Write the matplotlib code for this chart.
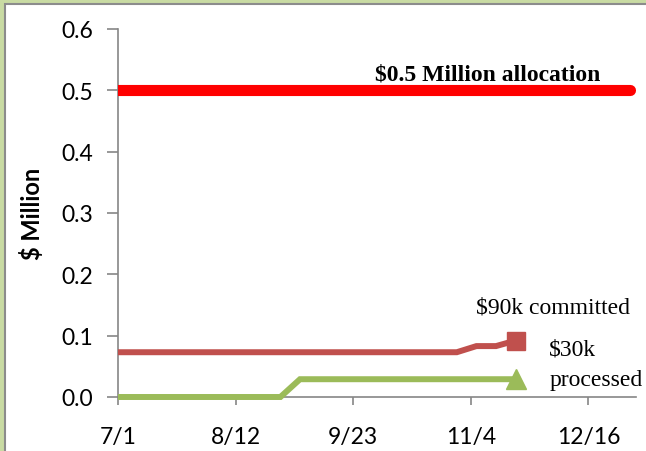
import matplotlib.pyplot as plt
from matplotlib.patches import Rectangle
from datetime import datetime

YEAR = 2013

def d(s, year=YEAR):
    m, day = s.split('/')
    return datetime(year, int(m), int(day))

# allocation line
alloc_dates = [d('7/1'), d('12/31')]
alloc_vals = [0.5, 0.5]

# committed ($ million)
committed_dates = [d('7/1'), d('10/30'), d('11/6'), d('11/13'), d('11/20')]
committed_vals = [0.073, 0.073, 0.083, 0.083, 0.092]

# processed ($ million)
processed_dates = [d('7/1'), d('8/28'), d('9/4'), d('11/20')]
processed_vals = [0.0, 0.0, 0.029, 0.029]

tick_labels = ['7/1', '8/12', '9/23', '11/4', '12/16']
y_ticks = [0.0, 0.1, 0.2, 0.3, 0.4, 0.5, 0.6]

fig = plt.figure(figsize=(6.46, 4.52), dpi=100)
fig.patch.set_facecolor('#c9dba3')
fig.patches.append(Rectangle((5 / 646, -0.1), 1.2, (447 / 452) + 0.1,
                             transform=fig.transFigure, facecolor='white',
                             edgecolor='#8c8c8c', linewidth=1.5, zorder=-1))

ax = fig.add_axes([118 / 646, 1 - 398 / 452, (636 - 118) / 646, (398 - 30) / 452])
ax.set_zorder(2)
ax.set_facecolor('none')

ax.plot(alloc_dates, alloc_vals, color='#ff0000', lw=8, solid_capstyle='round', zorder=3)
ax.plot(committed_dates, committed_vals, color='#c0504d', lw=4.3,
        marker='s', markevery=[-1], markersize=13, solid_capstyle='butt',
        solid_joinstyle='miter', clip_on=False, zorder=4)
ax.plot(processed_dates, processed_vals, color='#9bbb59', lw=4.3,
        marker='^', markevery=[-1], markersize=15, solid_capstyle='butt',
        solid_joinstyle='miter', clip_on=False, zorder=4)

ax.set_xlim(d('7/1'), d('1/2', YEAR + 1))
ax.set_ylim(0, 0.6)
ax.set_xticks([d(t) for t in tick_labels])
ax.set_xticklabels(tick_labels)
ax.set_yticks(y_ticks)
ax.set_yticklabels([f'{v:.1f}' for v in y_ticks])

for side in ['top', 'right']:
    ax.spines[side].set_visible(False)
for side in ['left', 'bottom']:
    ax.spines[side].set_color('#868686')
    ax.spines[side].set_linewidth(1.2)

ax.tick_params(axis='y', length=8, width=1.2, color='#868686', pad=10,
               labelsize=16.5, labelcolor='black')
ax.tick_params(axis='x', length=6, width=1.2, color='#868686', pad=15,
               labelsize=16.5, labelcolor='black')
for lbl in ax.get_xticklabels() + ax.get_yticklabels():
    lbl.set_fontfamily('Lato')

ax.set_ylabel('$ Million', fontfamily='Lato', fontweight='bold', fontsize=17, labelpad=12)

serif = 'Liberation Serif'
ax.text(d('11/10'), 0.517, '$0.5 Million allocation', fontfamily=serif, fontweight='bold',
        fontsize=17, ha='center', va='baseline')
ax.text(d('11/6'), 0.147, '$90k committed', fontfamily=serif, fontsize=17,
        ha='left', va='center')
ax.text(d('12/2'), 0.079, '$30k', fontfamily=serif, fontsize=17, ha='left', va='center')
ax.text(d('12/2'), 0.029, 'processed', fontfamily=serif, fontsize=17, ha='left', va='center')

fig.savefig('out.png', dpi=100, facecolor=fig.get_facecolor())
